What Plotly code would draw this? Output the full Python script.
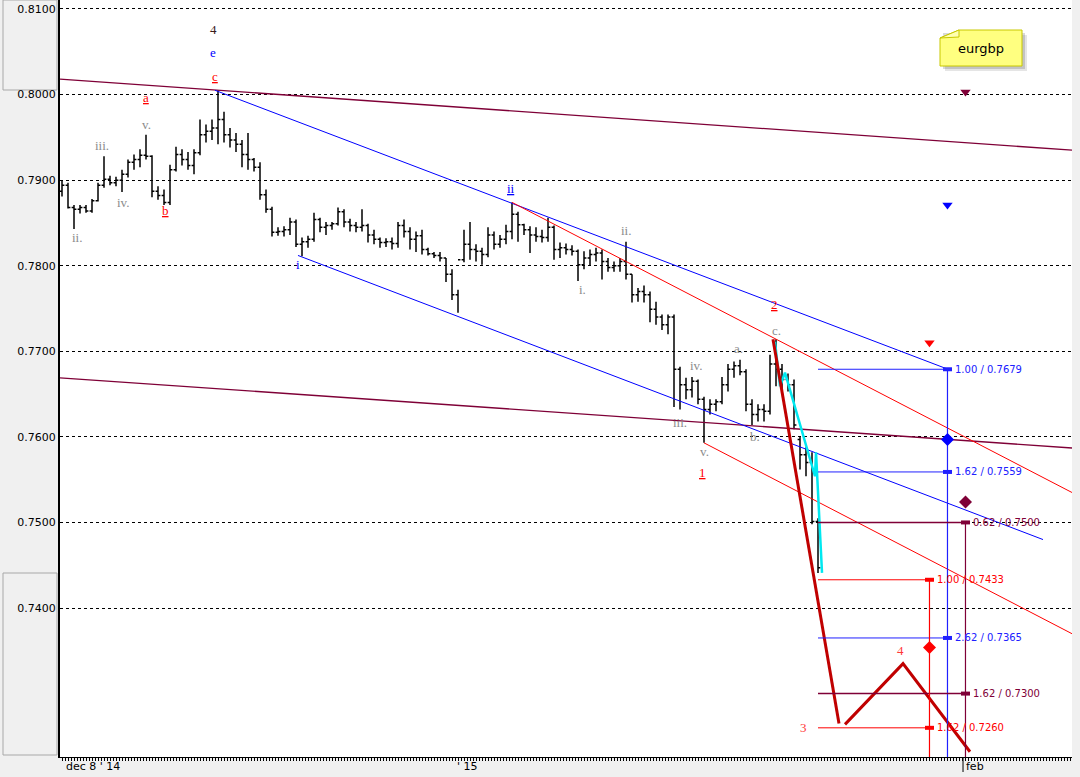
import plotly.graph_objects as go

# ---------------- price bars (EURGBP) ----------------
opens = [0.7887,0.7894,0.7868,0.7866,0.7868,0.7864,0.7876,0.7894,0.7901,0.7897,
         0.7900,0.7907,0.7921,0.7924,0.7929,0.7928,0.7887,0.7882,0.7874,0.7912,
         0.7930,0.7924,0.7917,0.7932,0.7953,0.7957,0.7961,0.7971,0.7953,0.7947,
         0.7942,0.7930,0.7924,0.7915,0.7883,0.7866,0.7839,0.7840,0.7842,0.7851,
         0.7825,0.7828,0.7831,0.7854,0.7845,0.7847,0.7849,0.7863,0.7851,0.7847,
         0.7845,0.7847,0.7836,0.7831,0.7827,0.7828,0.7826,0.7847,0.7840,0.7831,
         0.7835,0.7819,0.7814,0.7812,0.7809,0.7790,0.7766,0.7807,0.7825,0.7819,
         0.7817,0.7813,0.7836,0.7825,0.7831,0.7840,0.7860,0.7848,0.7842,0.7836,
         0.7834,0.7833,0.7845,0.7819,0.7821,0.7819,0.7817,0.7801,0.7809,0.7813,
         0.7815,0.7805,0.7798,0.7800,0.7805,0.7790,0.7766,0.7770,0.7766,0.7749,
         0.7740,0.7731,0.7740,0.7679,0.7661,0.7655,0.7665,0.7644,0.7632,0.7638,
         0.7641,0.7661,0.7679,0.7683,0.7676,0.7638,0.7626,0.7632,0.7630,0.7685,
         0.7679,0.7667,0.7661,0.7597,0.7579,0.7570,0.7501]
highs = [0.7899,0.7897,0.7871,0.7871,0.7871,0.7878,0.7897,0.7928,0.7905,0.7904,
         0.7912,0.7924,0.7930,0.7936,0.7953,0.7929,0.7893,0.7889,0.7918,0.7939,
         0.7936,0.7933,0.7936,0.7971,0.7965,0.7971,0.8005,0.7980,0.7961,0.7955,
         0.7947,0.7955,0.7926,0.7921,0.7889,0.7869,0.7845,0.7846,0.7856,0.7854,
         0.7833,0.7835,0.7862,0.7856,0.7851,0.7851,0.7868,0.7866,0.7855,0.7851,
         0.7866,0.7849,0.7842,0.7833,0.7832,0.7833,0.7851,0.7854,0.7845,0.7840,
         0.7842,0.7821,0.7816,0.7816,0.7809,0.7796,0.7772,0.7842,0.7851,0.7825,
         0.7821,0.7845,0.7840,0.7836,0.7848,0.7874,0.7863,0.7849,0.7846,0.7845,
         0.7842,0.7856,0.7847,0.7827,0.7826,0.7824,0.7819,0.7817,0.7819,0.7821,
         0.7819,0.7809,0.7805,0.7809,0.7828,0.7790,0.7774,0.7777,0.7770,0.7758,
         0.7743,0.7743,0.7743,0.7682,0.7669,0.7670,0.7667,0.7647,0.7644,0.7644,
         0.7670,0.7685,0.7688,0.7690,0.7679,0.7644,0.7638,0.7638,0.7696,0.7714,
         0.7685,0.7674,0.7667,0.7600,0.7588,0.7582,0.7505]
lows = [0.7881,0.7867,0.7843,0.7861,0.7862,0.7862,0.7875,0.7891,0.7894,0.7893,
        0.7886,0.7903,0.7912,0.7915,0.7924,0.7880,0.7877,0.7871,0.7871,0.7910,
        0.7917,0.7912,0.7907,0.7929,0.7944,0.7947,0.7942,0.7944,0.7938,0.7933,
        0.7915,0.7912,0.7910,0.7877,0.7862,0.7834,0.7835,0.7834,0.7836,0.7822,
        0.7811,0.7821,0.7828,0.7839,0.7836,0.7842,0.7847,0.7845,0.7840,0.7839,
        0.7840,0.7827,0.7825,0.7821,0.7822,0.7819,0.7821,0.7833,0.7819,0.7816,
        0.7813,0.7812,0.7809,0.7805,0.7781,0.7760,0.7745,0.7804,0.7807,0.7805,
        0.7801,0.7810,0.7819,0.7821,0.7825,0.7831,0.7828,0.7836,0.7815,0.7828,
        0.7827,0.7828,0.7807,0.7809,0.7813,0.7812,0.7782,0.7796,0.7800,0.7805,
        0.7784,0.7793,0.7793,0.7793,0.7784,0.7757,0.7758,0.7757,0.7734,0.7731,
        0.7725,0.7720,0.7635,0.7632,0.7644,0.7646,0.7638,0.7593,0.7626,0.7630,
        0.7638,0.7653,0.7669,0.7672,0.7630,0.7614,0.7618,0.7618,0.7626,0.7659,
        0.7655,0.7653,0.7609,0.7562,0.7554,0.7498,0.7441]
closes = [0.7894,0.7868,0.7866,0.7868,0.7864,0.7876,0.7894,0.7901,0.7897,0.7900,
          0.7907,0.7921,0.7924,0.7929,0.7928,0.7887,0.7882,0.7874,0.7912,0.7930,
          0.7924,0.7917,0.7932,0.7953,0.7957,0.7961,0.7971,0.7953,0.7947,0.7942,
          0.7930,0.7924,0.7915,0.7883,0.7866,0.7839,0.7840,0.7842,0.7851,0.7825,
          0.7828,0.7831,0.7854,0.7845,0.7847,0.7849,0.7863,0.7851,0.7847,0.7845,
          0.7847,0.7836,0.7831,0.7827,0.7828,0.7826,0.7847,0.7840,0.7831,0.7835,
          0.7819,0.7814,0.7812,0.7809,0.7790,0.7766,0.7807,0.7825,0.7819,0.7817,
          0.7813,0.7836,0.7825,0.7831,0.7840,0.7860,0.7848,0.7842,0.7836,0.7834,
          0.7833,0.7845,0.7819,0.7821,0.7819,0.7817,0.7801,0.7809,0.7813,0.7815,
          0.7805,0.7798,0.7800,0.7805,0.7790,0.7766,0.7770,0.7766,0.7749,0.7740,
          0.7731,0.7740,0.7679,0.7661,0.7655,0.7665,0.7644,0.7632,0.7638,0.7641,
          0.7661,0.7679,0.7683,0.7676,0.7638,0.7626,0.7632,0.7630,0.7685,0.7679,
          0.7667,0.7661,0.7614,0.7579,0.7570,0.7501,0.7447]
bars = list(range(len(opens)))

# ---------------- axis ----------------
y_ticks = [0.74, 0.75, 0.76, 0.77, 0.78, 0.79, 0.80, 0.81]
x_labels = ["dec 8 ' 14", "' 15", "feb"]
x_label_pos = [0.3, 65.5, 150.4]

# ---------------- trend lines (bar index, price) ----------------
maroon_upper_x, maroon_upper_y = [-0.33, 168.33], [0.8018, 0.7935]
maroon_lower_x, maroon_lower_y = [-0.33, 168.33], [0.7669, 0.7587]
blue_upper_x, blue_upper_y = [25.5, 147.67], [0.8005, 0.7679]
blue_lower_x, blue_lower_y = [39.33, 163.5], [0.7812, 0.7480]
red_upper_x, red_upper_y = [75.0, 168.33], [0.7874, 0.7535]
red_lower_x, red_lower_y = [107.0, 168.33], [0.7593, 0.7370]
wave3_x, wave3_y = [118.5, 129.5], [0.7714, 0.7265]
wave45_x, wave45_y = [130.5, 140.17, 151.33], [0.7264, 0.7335, 0.7232]
cyan_x = [118.83, 119.67, 120.5, 125.5, 125.67, 126.67]
cyan_y = [0.7711, 0.7659, 0.7675, 0.7554, 0.7582, 0.7441]

# ---------------- fibonacci projections ----------------
fib_start = 126
blue_fib_ratio = ["1.00", "1.62", "2.62"]
blue_fib_level = [0.7679, 0.7559, 0.7365]
blue_fib_end = 147.58
maroon_fib_ratio = ["0.62", "1.62"]
maroon_fib_level = [0.7500, 0.7300]
maroon_fib_end = 150.58
red_fib_ratio = ["1.00", "1.62"]
red_fib_level = [0.7433, 0.7260]
red_fib_end = 144.58

diamond_x = [147.58, 144.58, 150.58]
diamond_y = [0.7597, 0.7354, 0.7524]
triangle_x = [150.58, 147.58, 144.58]
triangle_y = [0.8003, 0.7871, 0.7710]

# ---------------- wave labels ----------------
GREY, RED, BLUE, DARK, SALMON = "#8c8c8c", "#ff0000", "#0000ff", "#3a1a1a", "#ff3838"
wave_text = ["4", "e", "<u>c</u>", "<u>a</u>", "v.", "iii.", "iv.", "ii.", "<u>b</u>",
             "i", "<u>ii</u>", "i.", "ii.", "iii.", "iv.", "v.", "<u>1</u>",
             "a.", "b.", "c.", "<u>2</u>", "3", "4"]
wave_x = [25.17, 25.17, 25.5, 14.0, 14.0, 6.67, 10.33, 2.5, 17.33,
          39.33, 74.83, 86.67, 94.0, 103.0, 105.83, 107.0, 106.83,
          112.83, 115.5, 119.0, 118.83, 123.5, 139.83]
wave_y = [0.8076, 0.8049, 0.8021, 0.7996, 0.7965, 0.7940, 0.7874, 0.7833, 0.7865,
          0.7802, 0.7890, 0.7772, 0.7841, 0.7617, 0.7683, 0.7583, 0.7558,
          0.7703, 0.7601, 0.7724, 0.7755, 0.7260, 0.7350]
wave_color = [DARK, BLUE, RED, RED, GREY, GREY, GREY, GREY, RED,
              BLUE, BLUE, GREY, GREY, GREY, GREY, GREY, RED,
              GREY, GREY, GREY, RED, SALMON, SALMON]

MAROON = "#7f0037"

fig = go.Figure()

def line(x, y, color, width, dash=None):
    fig.add_trace(go.Scatter(x=x, y=y, mode="lines",
                             line=dict(color=color, width=width, dash=dash),
                             hoverinfo="skip", showlegend=False))

line(maroon_upper_x, maroon_upper_y, MAROON, 1.3)
line(maroon_lower_x, maroon_lower_y, MAROON, 1.3)
line(blue_upper_x, blue_upper_y, BLUE, 1)
line(blue_lower_x, blue_lower_y, BLUE, 1)
line(red_upper_x, red_upper_y, RED, 1)
line(red_lower_x, red_lower_y, RED, 1)
line(cyan_x, cyan_y, "#00e8f0", 2.5)

fig.add_trace(go.Ohlc(x=bars, open=opens, high=highs, low=lows, close=closes,
                      increasing=dict(line=dict(color="black", width=1.5)),
                      decreasing=dict(line=dict(color="black", width=1.5)),
                      tickwidth=0.4, hoverinfo="skip", showlegend=False))

line(wave3_x, wave3_y, "#c00000", 3)
line(wave45_x, wave45_y, "#c00000", 3)

# fib lines
def fib_group(levels, ratios, end, color, width, label_dx):
    for lv, r in zip(levels, ratios):
        line([fib_start, end], [lv, lv], color, width)
        line([end - 0.75, end + 0.75], [lv, lv], color, 4)
        fig.add_annotation(x=end + label_dx, y=lv, xref="x", yref="y",
                           text=f"{r} / {lv:.4f}", showarrow=False,
                           xanchor="left", yanchor="middle",
                           font=dict(family="DejaVu Sans", size=10, color=color))
    line([end, end], [max(levels), 0.7200], color, 1.2)

fib_group(blue_fib_level, blue_fib_ratio, blue_fib_end, "#2020ff", 1, 1.0)
fib_group(maroon_fib_level, maroon_fib_ratio, maroon_fib_end, MAROON, 1.5, 1.0)
fib_group(red_fib_level, red_fib_ratio, red_fib_end, RED, 1, 1.0)

fig.add_trace(go.Scatter(x=diamond_x, y=diamond_y, mode="markers",
                         marker=dict(symbol="diamond", size=10,
                                     color=[BLUE, RED, MAROON], line=dict(width=0)),
                         hoverinfo="skip", showlegend=False))
fig.add_trace(go.Scatter(x=triangle_x, y=triangle_y, mode="markers",
                         marker=dict(symbol="triangle-down", size=9,
                                     color=[MAROON, BLUE, RED], line=dict(width=0)),
                         hoverinfo="skip", showlegend=False))

for t, x, y, c in zip(wave_text, wave_x, wave_y, wave_color):
    fig.add_annotation(x=x, y=y, xref="x", yref="y", text=t, showarrow=False,
                       xanchor="center", yanchor="middle",
                       font=dict(family="Liberation Serif", size=13, color=c))

for t, x in zip(x_labels, x_label_pos):
    fig.add_annotation(x=x, y=0, xref="x", yref="paper", text=t, showarrow=False,
                       xanchor="left", yanchor="top", yshift=-1,
                       font=dict(family="DejaVu Sans", size=11, color="black"))

# ---------------- decorations (pixel helpers) ----------------
PL, PW, PH = 60, 1012, 757
def px(v): return (v - PL) / PW
def py(v): return (PH - v) / PH

shapes = [
    dict(type="rect", xref="paper", yref="paper", x0=px(3), x1=px(57), y0=py(90), y1=py(0),
         line=dict(color="#a8a8a8", width=1), fillcolor="#f0f0f0", layer="below"),
    dict(type="rect", xref="paper", yref="paper", x0=px(3), x1=px(57), y0=py(755), y1=py(573),
         line=dict(color="#a8a8a8", width=1), fillcolor="#f0f0f0", layer="below"),
    # feb tick
    dict(type="line", xref="x", yref="paper", x0=150.17, x1=150.17, y0=py(757), y1=py(772),
         line=dict(color="black", width=1)),
    # note shadow
    dict(type="rect", xref="paper", yref="paper", x0=px(945), x1=px(1027), y0=py(71), y1=py(35),
         line=dict(width=0), fillcolor="rgba(0,0,0,0.10)"),
    dict(type="rect", xref="paper", yref="paper", x0=px(943), x1=px(1025), y0=py(69), y1=py(33),
         line=dict(width=0), fillcolor="rgba(0,0,0,0.15)"),
    # note body
    dict(type="path", xref="paper", yref="paper",
         path=f"M {px(940)},{py(38)} L {px(959)},{py(30)} L {px(1022)},{py(30)} "
              f"L {px(1022)},{py(66)} L {px(940)},{py(66)} Z",
         line=dict(color="#c8c800", width=1), fillcolor="#ffff80"),
    dict(type="path", xref="paper", yref="paper",
         path=f"M {px(940)},{py(38)} L {px(959)},{py(30)} L {px(959)},{py(37)} Z",
         line=dict(color="#c8c800", width=1), fillcolor="#ffffb0"),
]

fig.add_annotation(x=px(981), y=py(48), xref="paper", yref="paper", text="eurgbp",
                   showarrow=False, xanchor="center", yanchor="middle",
                   font=dict(family="DejaVu Sans", size=13, color="black"))

fig.update_layout(
    width=1080, height=777,
    margin=dict(l=PL, r=1080 - PL - PW, t=0, b=777 - PH, pad=0),
    paper_bgcolor="#f0f0f0", plot_bgcolor="white",
    showlegend=False, shapes=shapes,
    xaxis=dict(range=[-0.333, 168.333], rangeslider=dict(visible=False),
               showgrid=False, zeroline=False, showline=True, linecolor="black",
               linewidth=1, tickmode="linear", tick0=0, dtick=0.5, ticks="outside",
               ticklen=3, tickcolor="black", tickwidth=1, showticklabels=False),
    yaxis=dict(range=[0.72259, 0.81105], tickmode="array", tickvals=y_ticks,
               ticktext=[f"{v:.4f}" for v in y_ticks], showgrid=True,
               gridcolor="black", gridwidth=1, griddash="3px,3px", zeroline=False,
               showline=True, linecolor="black", linewidth=2, ticks="",
               tickfont=dict(family="DejaVu Sans", size=11, color="black")),
)

fig.write_html("out.html",
               config={"displayModeBar": False},
               post_script="document.body.style.margin='0px';"
                           "document.body.style.overflow='hidden';"
                           "document.body.style.background='#f0f0f0';")
